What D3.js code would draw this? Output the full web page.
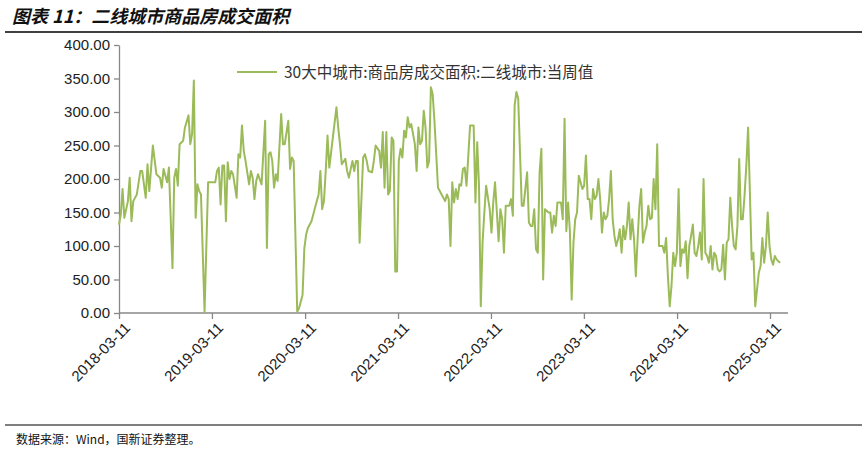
<!DOCTYPE html>
<html><head><meta charset="utf-8">
<script src="https://cdn.jsdelivr.net/npm/d3@7"></script>
<style>body{margin:0;background:#fff}text{font-family:"Liberation Sans",Arial,sans-serif}</style>
</head><body><svg id="c" width="868" height="454"></svg>
<script>
const startDate = "2018-03-11";
const tickLabels = ["2018-03-11","2019-03-11","2020-03-11","2021-03-11","2022-03-11","2023-03-11","2024-03-11","2025-03-11"];
const yTicks = [0,50,100,150,200,250,300,350,400];
const seriesName = "30大中城市:商品房成交面积:二线城市:当周值";
// [week index since start, value]
const points2018_2021 = [[0,132],[1,147],[2,185],[3,142],[5,167],[6,202],[7,137],[8,167],[10,177],[12,212],[13,212],[15,172],[16,222],[17,182],[19,250],[21,207],[23,202],[24,187],[25,215],[27,195],[28,217],[30,67],[31,202],[32,215],[33,190],[34,252],[36,257],[37,277],[39,295],[40,252],[41,267],[42,347],[43,142],[44,192],[45,182],[46,177],[48,2],[50,195],[52,195],
[54,195],[55,212],[56,217],[57,162],[58,220],[59,220],[60,137],[61,225],[62,200],[63,212],[64,207],[66,172],[67,237],[68,232],[69,280],[70,242],[71,227],[73,192],[74,212],[75,202],[76,170],[77,197],[78,207],[80,192],[82,287],[83,97],[84,237],[85,240],[86,227],[87,187],[88,207],[89,197],[91,297],[92,252],[93,252],[95,287],[96,215],[97,232],[98,227],[100,2],[101,7],[103,27],[104,97],[105,117],
[106,127],[108,137],[109,147],[111,167],[112,177],[113,212],[114,155],[115,167],[116,212],[117,265],[118,217],[120,262],[122,307],[123,277],[124,252],[125,222],[127,230],[128,212],[129,202],[131,227],[132,212],[133,227],[134,227],[135,105],[137,232],[138,237],[139,227],[140,212],[142,210],[143,227],[144,250],[146,242],[147,217],[148,270],[149,187],[150,270],[151,177],[152,182],[153,262],[154,257],[155,62],[156,62],[157,227],[158,245],
[159,232],[160,272],[161,262],[162,292],[163,277],[164,282],[165,267],[166,252],[167,212],[168,277],[169,252],[170,257],[171,302],[172,277],[173,217],[174,227],[175,337],[176,327],[177,287],[179,187],[181,177],[183,167],[184,177]];
const points2021_2025 = [[185,170],[186,100],[187,195],[188,165],[189,185],[190,170],[191,192],[192,190],[193,215],[194,217],[195,190],[197,280],[199,280],[200,165],[201,255],[202,190],[203,10],[204,105],[205,150],[206,190],[208,155],[209,120],[210,165],[211,195],[213,107],[214,155],[215,140],[216,90],[217,160],[219,160],[220,170],[221,145],[222,310],[223,330],[224,320],[226,160],[227,160],[229,210],[230,135],[231,130],[232,130],[233,155],[234,95],[235,90],[236,210],[237,245],[238,50],[239,155],[241,150],[242,150],[243,120],[244,145],[245,130],[246,165],[248,165],[249,140],[250,290],[251,122],[252,165],[253,122],[254,20],[255,105],
[256,140],[257,150],[258,205],[259,195],[260,185],[261,190],[262,235],[263,170],[264,170],[265,140],[266,185],[267,170],[268,175],[269,200],[270,170],[271,120],[272,150],[273,140],[274,145],[275,170],[276,212],[277,140],[278,115],[279,100],[280,110],[281,125],[282,90],[283,130],[284,110],[285,130],[286,165],[287,110],[288,140],[289,110],[290,55],[291,110],[292,160],[293,185],[294,105],[295,120],[296,130],[297,160],[298,140],[299,142],[300,200],[301,155],[302,252],[303,100],[304,100],[305,100],[306,90],[307,112],[308,55],[309,10],[310,40],[311,90],[312,70],[313,90],[314,185],[315,70],[316,95],[317,90],[318,107],[319,52],[320,100],[321,115],[322,132],[323,90],[324,85],[325,100],[326,120],[327,80],[328,200],[329,90],[330,85],[331,75],[332,100],[333,65],[334,90],[335,85],[336,65],[337,62],[338,65],[339,102],[340,50],[341,105],[342,110],[343,172],[344,130],[345,100],[346,95],[347,130],[348,230],[349,140],[350,140],[351,175],[352,220],[353,277],[354,180],[355,80],[356,90],[357,10],[358,35],[359,60],[360,70],[361,112],[362,75],[363,100],[364,150],[365,100],[366,80],[367,72],[368,85],[369,80],[370,77],[371,75]];

const svg = d3.select("#c");
const parse = d3.timeParse("%Y-%m-%d");
const t0 = parse(startDate);
const data = points2018_2021.concat(points2021_2025).map(([w,v]) => ({date: d3.timeDay.offset(t0, w*7), value: v}));
const x = d3.scaleTime().domain([parse(tickLabels[0]), parse(tickLabels[7])]).range([119, 770]);
const y = d3.scaleLinear().domain([0,400]).range([313,45]);

svg.append("text").attr("x",12).attr("y",23).attr("font-size",18).attr("font-weight","bold").attr("font-style","italic")
  .style("font-family","'Noto Sans CJK SC',sans-serif").attr("fill","#111").text("图表 11：二线城市商品房成交面积");
svg.append("line").attr("x1",5).attr("x2",862).attr("y1",32).attr("y2",32).attr("stroke","#000").attr("stroke-width",1.6);
svg.append("line").attr("x1",5).attr("x2",862).attr("y1",425).attr("y2",425).attr("stroke","#000").attr("stroke-width",1.2);
svg.append("text").attr("x",16).attr("y",444).attr("font-size",12).style("font-family","'Noto Sans CJK SC',sans-serif").attr("fill","#111").text("数据来源：Wind，国新证券整理。");

const ya = svg.append("g").attr("transform","translate(119,0)").call(d3.axisLeft(y).tickValues(yTicks).tickFormat(d3.format(".2f")).tickSize(5).tickSizeOuter(0));
ya.selectAll("text").attr("font-size",15).attr("fill","#222").attr("dx",-1);
const xa = svg.append("g").attr("transform","translate(0,313)").call(d3.axisBottom(x).tickValues(tickLabels.map(parse)).tickFormat(d3.timeFormat("%Y-%m-%d")).tickSize(6).tickSizeOuter(0));
xa.select(".domain").attr("d","M119,0H788");
xa.selectAll("text").attr("font-size",15).attr("fill","#222").attr("text-anchor","end").attr("transform","rotate(-45)").attr("dx","-0.2em").attr("dy","0.7em");
svg.selectAll(".domain,.tick line").attr("stroke","#888").attr("stroke-width",1.3);

svg.append("path").datum(data).attr("fill","none").attr("stroke","#9bbb59").attr("stroke-width",2).attr("stroke-linejoin","round")
  .attr("d", d3.line().x(d=>x(d.date)).y(d=>y(d.value)));

svg.append("line").attr("x1",237).attr("x2",277).attr("y1",72).attr("y2",72).attr("stroke","#9bbb59").attr("stroke-width",2);
svg.append("text").attr("x",284).attr("y",78).attr("font-size",15.5).style("font-family","'Noto Sans CJK SC',sans-serif").attr("fill","#333").text(seriesName);
</script></body></html>
